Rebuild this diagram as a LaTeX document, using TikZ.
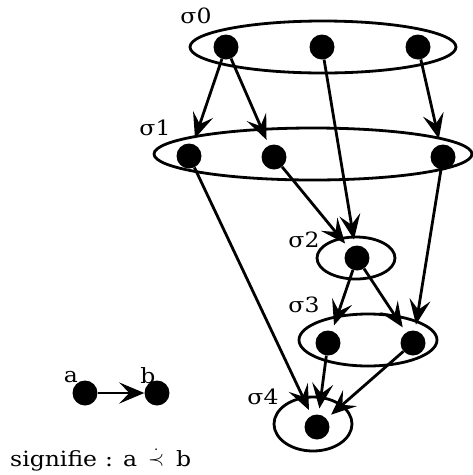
\documentclass[tikz,border=0pt]{standalone}
\usepackage{fontspec}
\setmainfont{DejaVu Serif}[FakeStretch=1.12]
\usetikzlibrary{arrows.meta}
\begin{document}
\begin{tikzpicture}[x=1pt,y=-1pt,
  dot/.style={circle,fill=black,inner sep=0pt,minimum size=25pt},
  grp/.style={line width=2.8pt},
  edge/.style={line width=2.8pt,-{Stealth[length=25pt,width=21pt,inset=10pt]},shorten >=6pt},
  lbl/.style={font=\fontsize{21}{22}\selectfont,inner sep=0pt}]
\useasboundingbox (0,0) rectangle (473,475);
% ellipses
\draw[grp] (323,47) ellipse [x radius=133, y radius=26];
\draw[grp] (313,154) ellipse [x radius=159, y radius=26];
\draw[grp] (356,258) ellipse [x radius=39, y radius=21];
\draw[grp] (368,340) ellipse [x radius=69, y radius=26];
\draw[grp] (313,424) ellipse [x radius=39, y radius=27];
% dots
\node[dot] (a0) at (226,47) {};
\node[dot] (b0) at (322,47) {};
\node[dot] (c0) at (418,47) {};
\node[dot] (a1) at (189,156) {};
\node[dot] (b1) at (274,157) {};
\node[dot] (c1) at (443,157) {};
\node[dot] (s2) at (357,258) {};
\node[dot] (a3) at (328,343) {};
\node[dot] (b3) at (413,343) {};
\node[dot] (s4) at (317,427) {};
% labels
\node[lbl] (l0) at (196,16) {σ0};
\node[lbl] (l1) at (155,128) {σ1};
\node[lbl] (l2) at (304,240) {σ2};
\node[lbl] (l3) at (304,305) {σ3};
\node[lbl] (l4) at (263,397) {σ4};
% edges
\draw[edge] (a0) -- (a1);
\draw[edge] (a0) -- (b1);
\draw[edge] (c0) -- (c1);
\draw[edge] (b0) -- (s2);
\draw[edge] (b1) -- (s2);
\draw[edge] (c1) -- (b3);
\draw[edge] (s2) -- (a3);
\draw[edge] (s2) -- (b3);
\draw[edge] (a1) -- (s4);
\draw[edge] (a3) -- (s4);
\draw[edge] (b3) -- (s4);
% legend
\node[dot] (la) at (85,393) {};
\node[dot] (lb) at (157,393) {};
\node[lbl] (ta) at (71,377) {a};
\node[lbl] (tb) at (148,376) {b};
\draw[edge,shorten >=0pt] (la) -- (lb);
\node[lbl,anchor=base west] (sig) at (10,466) {signifie\hspace{8pt}:\hspace{10pt}a\hspace{11pt}\raisebox{1pt}{$\dot{\prec}$}\hspace{12pt}b};
\end{tikzpicture}
\end{document}
